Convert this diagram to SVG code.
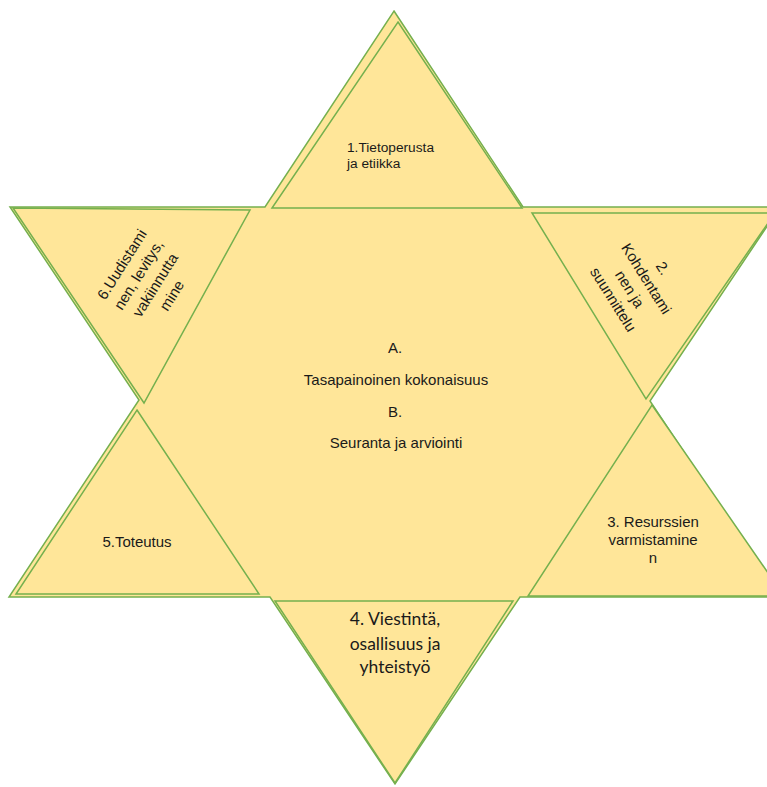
<svg xmlns="http://www.w3.org/2000/svg" width="767" height="787" viewBox="0 0 767 787">
<style>
.shape{fill:#FFE699;stroke:#75B04E;stroke-width:1.5;stroke-linejoin:miter}
.t{font-family:"Liberation Sans",Arial,sans-serif;font-size:15px;fill:#1a1a1a}
.m{text-anchor:middle}
.c{font-family:Lato,"Open Sans",sans-serif;font-size:17.5px;fill:#1a1a1a;text-anchor:middle}
</style>
<rect width="767" height="787" fill="#ffffff"/>
<g id="center">
<polygon class="shape" points="394,11 523,207 780,207 650,401 780,597 520,597 395,784 270,597 9,597 139,400 10,207 265,207"/>
<text class="t m" x="395" y="353">A.</text>
<text class="t m" x="396" y="385">Tasapainoinen kokonaisuus</text>
<text class="t m" x="395" y="417">B.</text>
<text class="t m" x="396" y="448">Seuranta ja arviointi</text>
</g>
<g id="node1">
<polygon class="shape" points="398,22 522,208 272,208"/>
<text class="t" x="347" y="152" style="font-size:13.7px">1.Tietoperusta</text>
<text class="t" x="347" y="168" style="font-size:13.7px">ja etiikka</text>
</g>
<g id="node2">
<polygon class="shape" points="532,213 775,213 646,399"/>
<g transform="translate(638,284) rotate(58)">
<text class="t m" x="0" y="-24.4">2.</text>
<text class="t m" x="0" y="-4.8">Kohdentami</text>
<text class="t m" x="0" y="14.8">nen ja</text>
<text class="t m" x="0" y="34.4">suunnittelu</text>
</g>
</g>
<g id="node3">
<polygon class="shape" points="652,405 784,596 528,596"/>
<text class="t m" x="653" y="527">3. Resurssien</text>
<text class="t m" x="653" y="545">varmistamine</text>
<text class="t m" x="653" y="563">n</text>
</g>
<g id="node4">
<polygon class="shape" points="275,601 513,601 395,783"/>
<text class="c" x="395" y="625">4. Viestintä,</text>
<text class="c" x="395" y="650">osallisuus ja</text>
<text class="c" x="395" y="673">yhteistyö</text>
</g>
<g id="node5">
<polygon class="shape" points="137,410 259,594 16,594"/>
<text class="t m" x="137" y="547">5.Toteutus</text>
</g>
<g id="node6">
<polygon class="shape" points="13,208 250,210 144,403"/>
<g transform="translate(147,280) rotate(-58)">
<text class="t m" x="0" y="-24.4">6.Uudistami</text>
<text class="t m" x="0" y="-4.8">nen, levitys,</text>
<text class="t m" x="0" y="14.8">vakiinnutta</text>
<text class="t m" x="0" y="34.4">mine</text>
</g>
</g>
</svg>
